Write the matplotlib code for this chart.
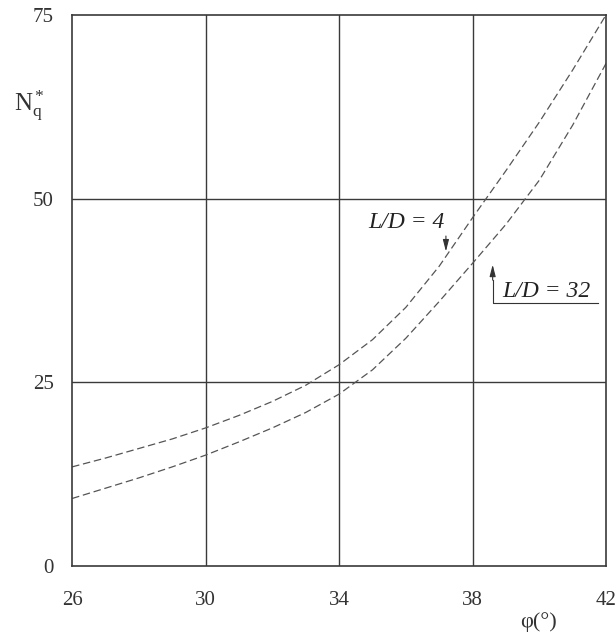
import numpy as np
import matplotlib
matplotlib.use('Agg')
import matplotlib.pyplot as plt

phi = [26, 27, 28, 29, 30, 31, 32, 33, 34, 35, 36, 37, 38, 39, 40, 41, 42]
nq_ld4 = [13.5, 14.7, 16.0, 17.3, 18.8, 20.5, 22.4, 24.6, 27.4, 30.8, 35.2,
          40.8, 47.4, 53.8, 60.4, 67.5, 75.0]
nq_ld32 = [9.2, 10.6, 12.0, 13.5, 15.1, 16.9, 18.8, 20.9, 23.4, 26.7, 31.0,
           36.0, 41.2, 46.5, 52.5, 60.0, 68.4]
xticks = [26, 30, 34, 38, 42]
yticks = [0, 25, 50, 75]

plt.rcParams['font.family'] = 'Liberation Serif'
plt.rcParams['mathtext.fontset'] = 'custom'
plt.rcParams['mathtext.rm'] = 'Liberation Serif'
plt.rcParams['mathtext.it'] = 'Liberation Serif:italic'

fig = plt.figure(figsize=(6.16, 6.39), dpi=100)
ax = fig.add_axes([0.117, 0.114, 0.867, 0.863])

gc = '#3a3a3a'
for v in xticks[1:-1]:
    ax.axvline(v, color=gc, lw=1.0, zorder=1)
for v in yticks[1:-1]:
    ax.axhline(v, color=gc, lw=1.0, zorder=1)

ax.plot(phi, nq_ld4, color='#555555', lw=0.9, ls=(0, (6, 3)), zorder=2)
ax.plot(phi, nq_ld32, color='#555555', lw=0.9, ls=(0, (6, 3)), zorder=2)

ax.set_xlim(26, 42)
ax.set_ylim(0, 75)
ax.set_xticks(xticks)
ax.set_yticks(yticks)
ax.tick_params(length=0, labelsize=15, colors='#333333')
ax.tick_params(axis='x', pad=18)
ax.tick_params(axis='y', pad=13)
for s in ax.spines.values():
    s.set_color(gc)
    s.set_linewidth(1.2)

arrow = dict(arrowstyle='-|>,head_length=0.7,head_width=0.18', color='#333333',
             lw=0.8, mutation_scale=10, shrinkA=0, shrinkB=0)

# curve labels
ax.text(37.15, 46.8, 'L/D = 4', style='italic', fontsize=17, ha='right',
        va='center', color='#222222')
ax.annotate('', xy=(37.2, 42.8), xytext=(37.2, 44.9), arrowprops=arrow)
ax.text(40.2, 37.3, 'L/D = 32', style='italic', fontsize=17, ha='center',
        va='center', color='#222222')
ax.plot([38.6, 38.6, 41.75], [38.9, 35.8, 35.8], color='#333333', lw=0.8)
ax.annotate('', xy=(38.6, 41.0), xytext=(38.6, 38.9), arrowprops=arrow)

fig.text(0.874, 0.027, 'φ(°)', fontsize=16, ha='center', va='center',
         color='#333333')
fig.text(0.048, 0.835, r'$\mathrm{N_q^*}$', fontsize=18, ha='center',
         va='center', color='#333333')

fig.savefig('out.png', dpi=100)
